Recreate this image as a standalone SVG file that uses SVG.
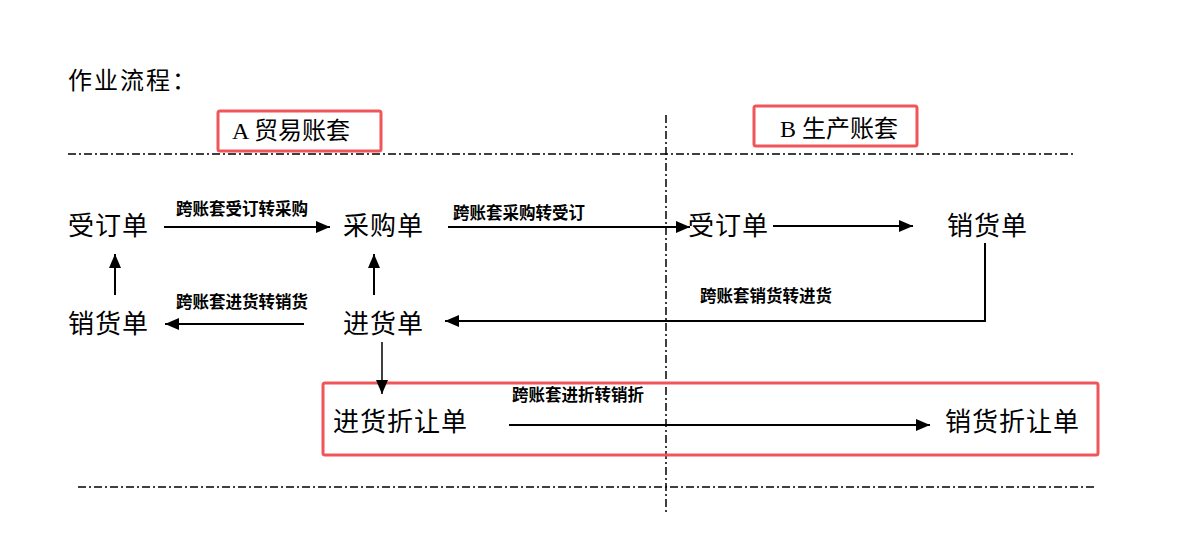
<svg xmlns="http://www.w3.org/2000/svg" width="1184" height="551" viewBox="0 0 1184 551">
<style>
.t{font-family:"Noto Sans CJK SC","Liberation Sans",sans-serif;font-size:26px;letter-spacing:1px;fill:#000}
.hd{font-family:"Liberation Serif","Noto Sans CJK SC",serif;font-size:24px;fill:#000}
.lb{font-family:"Noto Sans CJK SC",sans-serif;font-size:16.5px;font-weight:bold;fill:#000}
.dd{stroke:#000;stroke-width:1.5;fill:none;stroke-dasharray:8 3 2 3}
.box{fill:none;stroke:#f0555a;stroke-width:3}
.c{stroke:#000;stroke-width:2;fill:none;marker-end:url(#ah)}
</style>
<defs>
<marker id="ah" markerWidth="14" markerHeight="12" refX="14" refY="6" orient="auto" markerUnits="userSpaceOnUse">
<path d="M0,0 L14,6 L0,12 z" fill="#000"/>
</marker>
</defs>
<rect width="1184" height="551" fill="#fff"/>
<text x="68" y="89" class="t" style="font-size:24px;letter-spacing:2px">作业流程：</text>
<g id="lines">
<line x1="68" y1="154" x2="1075" y2="154" class="dd"/>
<line x1="78" y1="487" x2="1097" y2="487" class="dd"/>
<line x1="666" y1="115" x2="666" y2="515" class="dd"/>
</g>
<g id="accountA"><rect x="218" y="111" width="163" height="40" rx="2" class="box"/><text x="232" y="139" class="hd">A 贸易账套</text></g>
<g id="accountB"><rect x="754" y="106" width="163" height="40" rx="2" class="box"/><text x="780" y="137" class="hd">B 生产账套</text></g>
<g id="discountBox"><rect x="323" y="383" width="775" height="72" rx="2" class="box"/></g>
<g id="n1"><text x="68" y="235" class="t">受订单</text></g>
<g id="n2"><text x="343" y="235" class="t">采购单</text></g>
<g id="n3"><text x="688" y="235" class="t">受订单</text></g>
<g id="n4"><text x="947" y="235" class="t">销货单</text></g>
<g id="n5"><text x="68" y="333" class="t">销货单</text></g>
<g id="n6"><text x="343" y="333" class="t">进货单</text></g>
<g id="n7"><text x="333" y="431" class="t">进货折让单</text></g>
<g id="n8"><text x="945" y="431" class="t">销货折让单</text></g>
<g id="connectors">
<line x1="164" y1="227" x2="330" y2="227" class="c"/>
<line x1="448" y1="227" x2="690" y2="227" class="c"/>
<line x1="773" y1="226" x2="913" y2="226" class="c"/>
<polyline points="985,243 985,321 445,321" class="c"/>
<line x1="304" y1="324" x2="165" y2="324" class="c"/>
<line x1="115" y1="295" x2="115" y2="254" class="c"/>
<line x1="374" y1="295" x2="374" y2="254" class="c"/>
<line x1="382" y1="342" x2="382" y2="394" class="c" style="stroke-width:1.5"/>
<line x1="509" y1="425" x2="930" y2="425" class="c"/>
<text x="176" y="215" class="lb">跨账套受订转采购</text>
<text x="453" y="219" class="lb">跨账套采购转受订</text>
<text x="700" y="302" class="lb">跨账套销货转进货</text>
<text x="176" y="308" class="lb">跨账套进货转销货</text>
<text x="512" y="401" class="lb">跨账套进折转销折</text>
</g>
</svg>
